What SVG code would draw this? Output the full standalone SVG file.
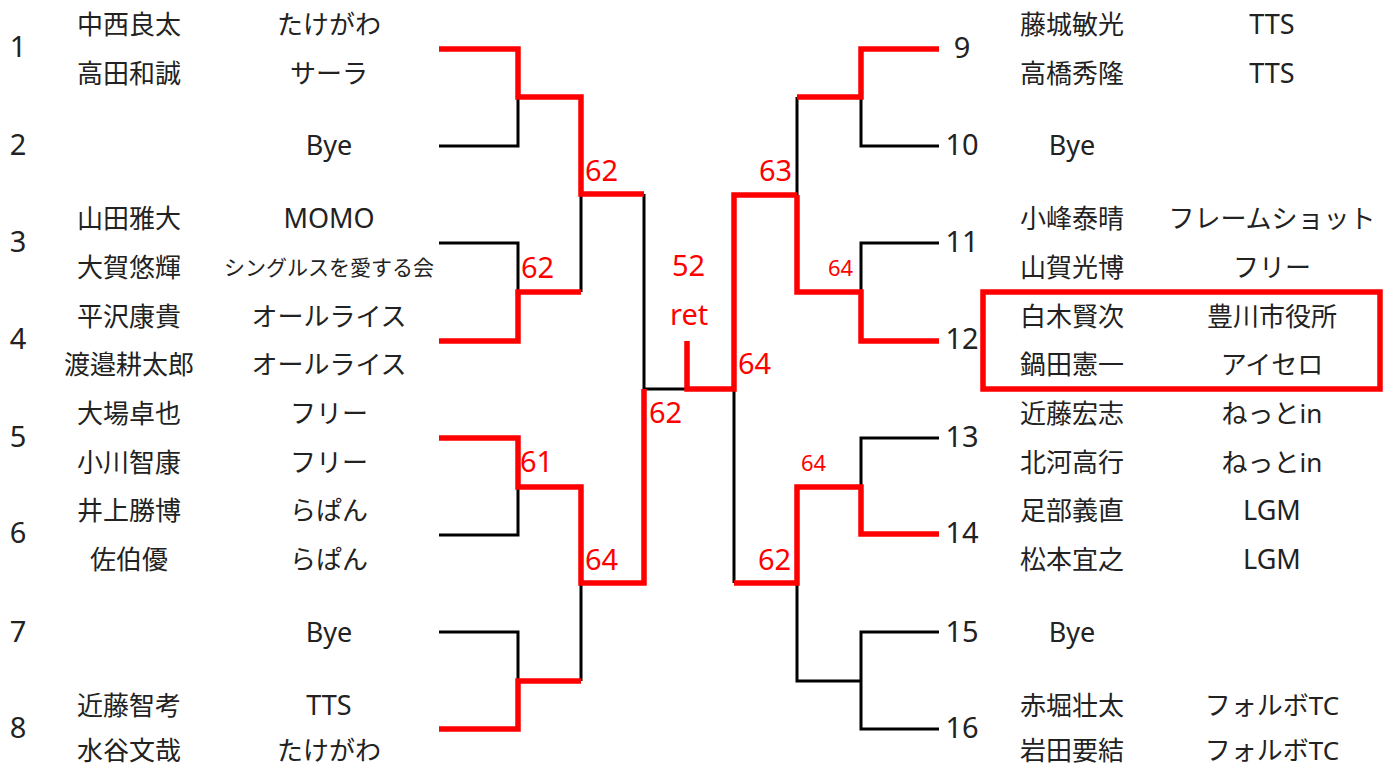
<svg xmlns="http://www.w3.org/2000/svg" width="1383" height="766" viewBox="0 0 1383 766">
<style>
text{font-family:"Noto Sans","Noto Sans CJK JP",sans-serif;fill:#222;text-anchor:middle}
.nm{font-size:26px}
.tm{font-size:26px}
.sm{font-size:21px}
.lt{font-size:27px}
.no{font-size:29px}
.sc{font-size:29px;fill:#ff0000;text-anchor:start}
.ss{font-size:22px;fill:#ff0000;text-anchor:start}
.bk{fill:none;stroke:#000;stroke-width:3}
.rd{fill:none;stroke:#ff0000;stroke-width:5.5;stroke-linejoin:miter}
</style>
<rect width="1383" height="766" fill="#fff"/>
<g id="connectors">
<g class="bk">
<path d="M439,146H518V97"/>
<path d="M439,243H518V292"/>
<path d="M581,292V194"/>
<path d="M439,535H518V487"/>
<path d="M439,632H518V681"/>
<path d="M581,681V583"/>
<path d="M644,194V389"/>
<path d="M644,389H687"/>
<path d="M734,389V583"/>
<path d="M797,195V97"/>
<path d="M861,97V146H939"/>
<path d="M861,292V243H939"/>
<path d="M861,487V438H939"/>
<path d="M797,583V681H861"/>
<path d="M939,632H861V729H939"/>
</g>
<g class="rd">
<path d="M439,49H518V97H581V194H644"/>
<path d="M439,341H518V292H581"/>
<path d="M439,438H518V487H581V583H644V389"/>
<path d="M439,729H518V681H581"/>
<path d="M687,341V389H734V195H797"/>
<path d="M797,97H861V49H939"/>
<path d="M797,195V292H861V341H939"/>
<path d="M734,583H797V487H861V534H939"/>
</g>
</g>
<g id="scores">
<text class="sc" x="585" y="181">62</text>
<text class="sc" x="521" y="278">62</text>
<text class="sc" x="520" y="472">61</text>
<text class="sc" x="585" y="570">64</text>
<text class="sc" x="649" y="423">62</text>
<text class="sc" x="759" y="181">63</text>
<text class="sc" x="672" y="276">52</text>
<text class="sc" x="670" y="325">ret</text>
<text class="ss" x="828" y="276">64</text>
<text class="sc" x="738" y="374">64</text>
<text class="ss" x="801" y="471">64</text>
<text class="sc" x="758" y="570">62</text>
</g>
<g id="highlight">
<rect x="983" y="292" width="397" height="97" fill="none" stroke="#ff0000" stroke-width="5.5"/>
</g>
<g id="seed1"><text class="no" x="18" y="57">1</text><text class="nm" x="129" y="34">中西良太</text><text class="tm" x="329" y="34">たけがわ</text><text class="nm" x="129" y="83">高田和誠</text><text class="tm" x="329" y="83">サーラ</text></g>
<g id="seed2"><text class="no" x="18" y="155">2</text><text class="lt" x="329" y="155">Bye</text></g>
<g id="seed3"><text class="no" x="18" y="252">3</text><text class="nm" x="129" y="228">山田雅大</text><text class="lt" x="329" y="228">MOMO</text><text class="nm" x="129" y="277">大賀悠輝</text><text class="sm" x="329" y="275">シングルスを愛する会</text></g>
<g id="seed4"><text class="no" x="18" y="349">4</text><text class="nm" x="129" y="326">平沢康貴</text><text class="tm" x="329" y="326">オールライス</text><text class="nm" x="129" y="374">渡邉耕太郎</text><text class="tm" x="329" y="374">オールライス</text></g>
<g id="seed5"><text class="no" x="18" y="447">5</text><text class="nm" x="129" y="423">大場卓也</text><text class="tm" x="329" y="423">フリー</text><text class="nm" x="129" y="472">小川智康</text><text class="tm" x="329" y="472">フリー</text></g>
<g id="seed6"><text class="no" x="18" y="543">6</text><text class="nm" x="129" y="520">井上勝博</text><text class="tm" x="329" y="520">らぱん</text><text class="nm" x="129" y="569">佐伯優</text><text class="tm" x="329" y="569">らぱん</text></g>
<g id="seed7"><text class="no" x="18" y="642">7</text><text class="lt" x="329" y="642">Bye</text></g>
<g id="seed8"><text class="no" x="18" y="738">8</text><text class="nm" x="129" y="715">近藤智考</text><text class="lt" x="329" y="715">TTS</text><text class="nm" x="129" y="760">水谷文哉</text><text class="tm" x="329" y="760">たけがわ</text></g>
<g id="seed9"><text class="no" x="962" y="58">9</text><text class="nm" x="1072" y="34">藤城敏光</text><text class="lt" x="1272" y="34">TTS</text><text class="nm" x="1072" y="83">高橋秀隆</text><text class="lt" x="1272" y="83">TTS</text></g>
<g id="seed10"><text class="no" x="962" y="155">10</text><text class="lt" x="1072" y="155">Bye</text></g>
<g id="seed11"><text class="no" x="962" y="252">11</text><text class="nm" x="1072" y="228">小峰泰晴</text><text class="tm" x="1272" y="228">フレームショット</text><text class="nm" x="1072" y="277">山賀光博</text><text class="tm" x="1272" y="277">フリー</text></g>
<g id="seed12"><text class="no" x="962" y="349">12</text><text class="nm" x="1072" y="326">白木賢次</text><text class="tm" x="1272" y="326">豊川市役所</text><text class="nm" x="1072" y="374">鍋田憲一</text><text class="tm" x="1272" y="374">アイセロ</text></g>
<g id="seed13"><text class="no" x="962" y="447">13</text><text class="nm" x="1072" y="423">近藤宏志</text><text class="tm" x="1272" y="423">ねっとin</text><text class="nm" x="1072" y="472">北河高行</text><text class="tm" x="1272" y="472">ねっとin</text></g>
<g id="seed14"><text class="no" x="962" y="543">14</text><text class="nm" x="1072" y="520">足部義直</text><text class="lt" x="1272" y="520">LGM</text><text class="nm" x="1072" y="569">松本宜之</text><text class="lt" x="1272" y="569">LGM</text></g>
<g id="seed15"><text class="no" x="962" y="642">15</text><text class="lt" x="1072" y="642">Bye</text></g>
<g id="seed16"><text class="no" x="962" y="738">16</text><text class="nm" x="1072" y="715">赤堀壮太</text><text class="tm" x="1272" y="715">フォルボTC</text><text class="nm" x="1072" y="760">岩田要結</text><text class="tm" x="1272" y="760">フォルボTC</text></g>
</svg>
